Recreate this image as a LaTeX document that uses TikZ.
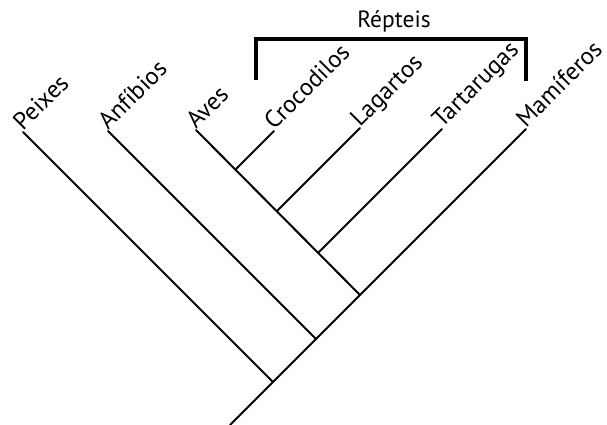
\documentclass[tikz,border=0pt]{standalone}
\usepackage{fontspec}
\setmainfont{PT Sans}
\begin{document}
\begin{tikzpicture}[x=1pt,y=1pt,
  branch/.style={line width=2pt,line cap=round},
  bracketline/.style={line width=3.6pt},
  lab/.style={anchor=base west,rotate=45,inner sep=0pt,font=\fontsize{24.5}{28}\selectfont},
  title/.style={anchor=base,inner sep=0pt,font=\fontsize{23.5}{28}\selectfont}]
\useasboundingbox (0,0) rectangle (607,425);
% junctions
\coordinate (root) at (230,0);
\coordinate (j1) at (273,43);
\coordinate (j2) at (316,86);
\coordinate (j3) at (360,130);
\coordinate (j4) at (318,172);
\coordinate (j5) at (277,214);
\coordinate (j6) at (236,256);
% tips
\coordinate (tPei) at (23,293);
\coordinate (tAnf) at (108,294);
\coordinate (tAve) at (196,295);
\coordinate (tCro) at (274,294);
\coordinate (tLag) at (360,297);
\coordinate (tTar) at (442,296);
\coordinate (tMam) at (526,296);
% branches
\draw[branch] (root) -- (tMam);
\draw[branch] (j1) -- (tPei);
\draw[branch] (j2) -- (tAnf);
\draw[branch] (j3) -- (tAve);
\draw[branch] (j4) -- (tTar);
\draw[branch] (j5) -- (tLag);
\draw[branch] (j6) -- (tCro);
% labels
\node[lab] (lPei) at (tPei) {Peixes};
\node[lab] (lAnf) at (tAnf) {Anfíbios};
\node[lab] (lAve) at (tAve) {Aves};
\node[lab] (lCro) at (tCro) {Crocodilos};
\node[lab] (lLag) at (tLag) {Lagartos};
\node[lab] (lTar) at (tTar) {Tartarugas};
\node[lab] (lMam) at (tMam) {Mamíferos};
% bracket
\coordinate (bl) at (256,345);
\coordinate (br) at (526,344);
\draw[bracketline] (bl) |- (391,386) -| (br);
\node[title] (rep) at (394,397) {Répteis};
\end{tikzpicture}
\end{document}
